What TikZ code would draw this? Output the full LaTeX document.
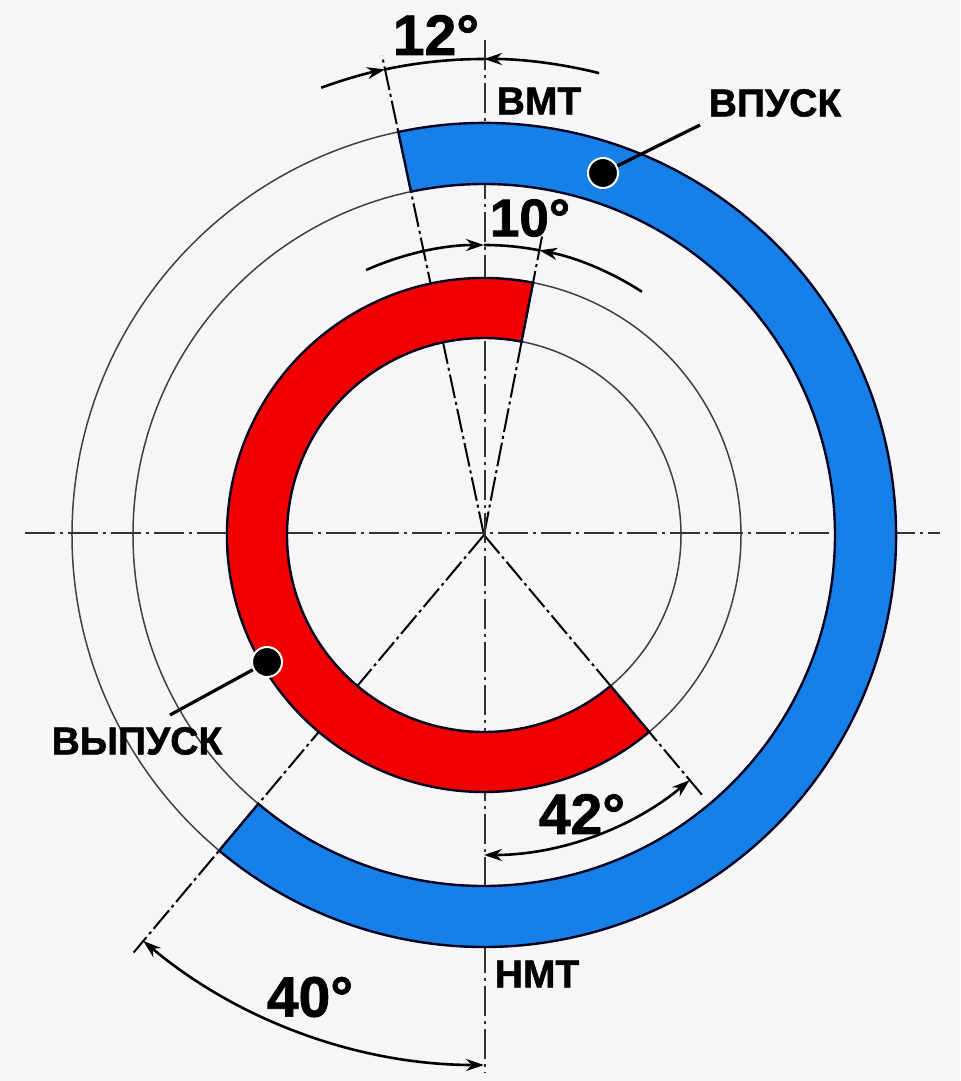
\documentclass[tikz,border=0pt]{standalone}
\usepackage{fontspec}
\setmainfont{Liberation Sans}[BoldFont={Liberation Sans Bold},BoldFeatures={FakeBold=1.3}]
\usetikzlibrary{arrows.meta}
\definecolor{bg}{RGB}{246,246,246}
\definecolor{inblue}{RGB}{22,128,232}
\definecolor{exred}{RGB}{240,0,0}
\definecolor{edge}{RGB}{5,5,35}
\begin{document}
\begin{tikzpicture}[x=0.5pt,y=0.5pt,
  thincirc/.style={draw=black!75,line width=0.75pt},
  axisline/.style={draw=black!80,line width=1.4pt,dash pattern=on 15pt off 2.5pt on 1.5pt off 2.5pt},
  radline/.style={draw=black,line width=1pt,dash pattern=on 12pt off 2pt on 1.5pt off 2pt},
  ring/.style={draw=edge,line width=1.2pt},
  dimline/.style={draw=black,line width=1.3pt},
  tip/.style={-{Stealth[length=9pt,width=6pt]}},
  bothtips/.style={{Stealth[length=9pt,width=6pt]}-{Stealth[length=9pt,width=6pt]}},
  lbl/.style={font=\bfseries\fontsize{19.5}{20}\selectfont,inner sep=0pt},
  num/.style={font=\bfseries\fontsize{28.5}{30}\selectfont,inner sep=0pt},
  dot/.style={circle,fill=black,draw=white,line width=1pt,minimum size=15pt,inner sep=0pt},
  leader/.style={draw=black,line width=1.6pt}
]
% background / bounding box
\fill[bg] (-484,-546) rectangle (476,535);
\useasboundingbox (-484,-546) rectangle (476,535);

% thin circles
\draw[thincirc] (0,0) circle[radius=412];
\draw[thincirc] (0,0) circle[radius=351];
\draw[thincirc] (0,0) circle[radius=257];
\draw[thincirc] (0,0) circle[radius=197];

% radial construction lines
\draw[radline] (0,0) -- (102:490);
\draw[radline] (0,0) -- (79:305);
\draw[radline] (0,0) -- (-50:340);
\draw[radline] (0,0) -- (-130:545);

% axes
\draw[axisline] (-459,2) -- (456,2);
\draw[axisline] (1,495) -- (1,-538);

% intake ring (blue)
\path[ring,fill=inblue] (102:412) arc[start angle=102,end angle=-130,radius=412]
  -- (-130:351) arc[start angle=-130,end angle=102,radius=351] -- cycle;

% exhaust ring (red)
\path[ring,fill=exred] (79:257) arc[start angle=79,end angle=310,radius=257]
  -- (310:197) arc[start angle=310,end angle=79,radius=197] -- cycle;

% 12 degree dimension
\draw[dimline,tip] (110:476) arc[start angle=110,end angle=102,radius=476];
\draw[dimline] (102:476) arc[start angle=102,end angle=90,radius=476];
\draw[dimline,tip] (76:476) arc[start angle=76,end angle=90,radius=476];
\node[num] (n12) at (-48,500) {12°};

% 10 degree dimension
\draw[dimline,tip] (114:290) arc[start angle=114,end angle=90,radius=290];
\draw[dimline] (90:290) arc[start angle=90,end angle=79,radius=290];
\draw[dimline,tip] (57:290) arc[start angle=57,end angle=79,radius=290];
\node[num,font=\bfseries\fontsize{26.5}{28}\selectfont] (n10) at (46,317) {10°};

% 42 degree dimension
\draw[dimline,bothtips] (-90:320) arc[start angle=-90,end angle=-50,radius=320];
\node[num] (n42) at (98,-279) {42°};

% 40 degree dimension
\draw[dimline,bothtips] (-130:530) arc[start angle=-130,end angle=-90,radius=530];
\node[num] (n40) at (-174,-462) {40°};

% labels
\node[lbl] (vmt) at (55,434) {ВМТ};
\node[lbl] (nmt) at (53,-439) {НМТ};
\node[lbl] (vpusk) at (291,432) {ВПУСК};
\node[lbl] (vypusk) at (-347,-206) {ВЫПУСК};

% leaders
\coordinate (inend) at (216,410);
\coordinate (exend) at (-314,-180);
\draw[leader] (119,362) -- (inend);
\draw[leader] (-217,-127) -- (exend);
\node[dot] (indot) at (119,362) {};
\node[dot] (exdot) at (-217,-127) {};
\end{tikzpicture}
\end{document}
